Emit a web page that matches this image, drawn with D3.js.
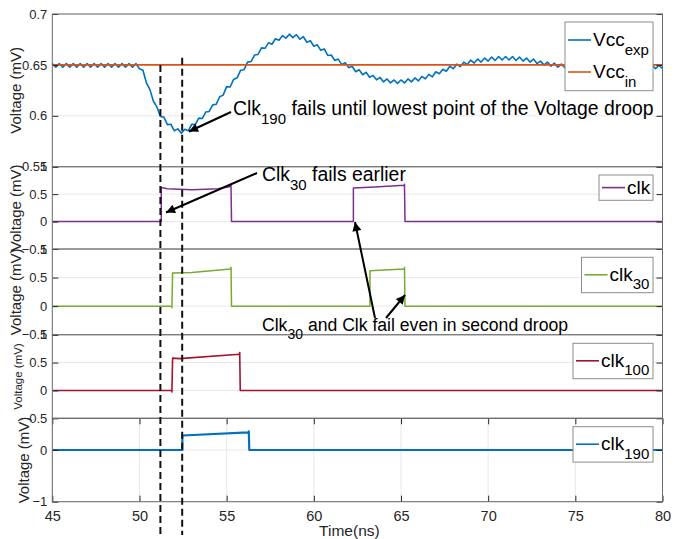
<!DOCTYPE html>
<html>
<head>
<meta charset="utf-8">
<script src="https://cdn.jsdelivr.net/npm/d3@7"></script>
<style>
  body { margin: 0; background: #fff; }
  svg { display: block; font-family: "Liberation Sans", Arial, sans-serif; }
</style>
</head>
<body>
<div id="chart"></div>
<script>
// time axis
const timeTicks = [45, 50, 55, 60, 65, 70, 75, 80];
const vccStart = 45, vccStep = 0.2;

const vccExp = [
  0.6512,0.6478,0.6512,0.6478,0.6512,0.6478,0.6512,0.6478,0.6512,0.6478,
  0.6512,0.6478,0.6512,0.6478,0.6512,0.6478,0.6512,0.6478,0.6512,0.6478,
  0.6512,0.6478,0.6512,0.6478,0.6512,0.6463,0.6447,0.6323,0.6257,0.6143,
  0.6087,0.5993,0.5987,0.5913,0.5917,0.5853,0.5872,0.5828,0.5867,0.5853,
  0.5917,0.5913,0.5977,0.5973,0.6037,0.6043,0.6107,0.6113,0.6187,0.6203,
  0.6287,0.6283,0.6357,0.6373,0.6447,0.6453,0.6527,0.6533,0.6597,0.6603,
  0.6667,0.6663,0.6717,0.6703,0.6757,0.6743,0.6787,0.6763,0.6802,0.6768,
  0.6797,0.6753,0.6777,0.6723,0.6737,0.6683,0.6697,0.6643,0.6657,0.6593,
  0.6597,0.6543,0.6557,0.6503,0.6522,0.6473,0.6487,0.6433,0.6452,0.6403,
  0.6427,0.6378,0.6397,0.6353,0.6377,0.6333,0.6362,0.6323,0.6352,0.6318,
  0.6352,0.6323,0.6362,0.6333,0.6372,0.6343,0.6387,0.6363,0.6407,0.6383,
  0.6432,0.6413,0.6457,0.6438,0.6487,0.6463,0.6507,0.6483,0.6527,0.6503,
  0.6547,0.6518,0.6557,0.6528,0.6567,0.6538,0.6577,0.6543,0.6582,0.6548,
  0.6582,0.6548,0.6582,0.6543,0.6577,0.6538,0.6567,0.6528,0.6557,0.6513,
  0.6537,0.6498,0.6527,0.6488,0.6517,0.6478,0.6507,0.6473,0.6507,0.6473,
  0.6507,0.6473,0.6507,0.6473,0.6507,0.6473,0.6507,0.6473,0.6507,0.6473,
  0.6507,0.6473,0.6507,0.6473,0.6507,0.6473,0.6497,0.6463,0.6497,0.6463,
  0.6497,0.6463,0.6497,0.6463,0.6497,0.6463
];
const vccIn = [[45, 0.65], [80, 0.65]];

// clock outputs [time ns, voltage]
const clk = [[45,0],[51.25,0],[51.25,0.62],[51.6,0.6],[53,0.58],[54.5,0.6],[55.22,0.64],[55.25,0.67],[55.28,0],
  [62.27,0],[62.27,0.61],[63.5,0.63],[65.18,0.66],[65.2,0.68],[65.23,0],[80,0]];
const clk30 = [[45,0],[51.86,0],[51.86,-0.03],[51.9,0.58],[53,0.59],[55.22,0.65],[55.25,0.68],[55.28,0],
  [63.22,0],[63.22,0.62],[65.18,0.65],[65.2,0.68],[65.23,0],[80,0]];
const clk100 = [[45,0],[51.86,0],[51.86,-0.03],[51.9,0.58],[52.3,0.57],[55.72,0.65],[55.75,0.68],[55.78,0],[80,0]];
const clk190 = [[45,0],[52.46,0],[52.46,0.28],[56.25,0.34],[56.27,0.36],[56.3,0],[80,0]];

const yTicks1 = [0.55, 0.6, 0.65, 0.7];
const yTicksClk = [-0.5, 0, 0.5, 1];
const yTicks5 = [-1, 0];

const failTimes = [51.2, 52.45];

const W = 689, H = 539;
const left = 52.3, right = 662.5;
const x = d3.scaleLinear().domain([45, 80]).range([left, right]);

const svg = d3.select('#chart').append('svg')
  .attr('width', W).attr('height', H);

const panels = [
  { top: 14, bottom: 166.7, domain: [0.55, 0.7], ticks: yTicks1,
    series: [{ data: vccExp.map((v, i) => [vccStart + i * vccStep, v]), color: '#0072BD', w: 1.6 },
             { data: vccIn, color: '#D95319', w: 1.8 }],
    legend: { top: 22, width: 88, rows: [['Vcc', 'exp', '#0072BD'], ['Vcc', 'in', '#D95319']] },
    label: { x: 17, size: 15 } },
  { top: 166.7, bottom: 249, domain: [-0.5, 1], ticks: yTicksClk,
    series: [{ data: clk, color: '#7E2F8E', w: 1.5 }],
    legend: { top: 175, width: 54, rows: [['clk', '', '#7E2F8E']] },
    label: { x: 17, size: 15 } },
  { top: 249, bottom: 334.7, domain: [-0.5, 1], ticks: yTicksClk,
    series: [{ data: clk30, color: '#77AC30', w: 1.5 }],
    legend: { top: 257.3, width: 71.5, rows: [['clk', '30', '#77AC30']] },
    label: { x: 17, size: 15 } },
  { top: 334.7, bottom: 418.3, domain: [-0.5, 1], ticks: yTicksClk,
    series: [{ data: clk100, color: '#A2142F', w: 1.6 }],
    legend: { top: 343.3, width: 80, rows: [['clk', '100', '#A2142F']] },
    label: { x: 19, size: 11.5 } },
  { top: 418.3, bottom: 501.7, domain: [-1, 0.613], ticks: yTicks5,
    series: [{ data: clk190, color: '#0072BD', w: 2.2 }],
    legend: { top: 426.7, width: 80, rows: [['clk', '190', '#0072BD']] },
    label: { x: 25, size: 15 } }
];

const axisColor = '#262626';

function richText(g, tx, ty, base, sub, rest, size, subSize) {
  const t = g.append('text').attr('x', tx).attr('y', ty)
    .attr('font-size', size).attr('fill', '#000');
  t.append('tspan').text(base);
  if (sub) t.append('tspan').attr('font-size', subSize).attr('dy', size * 0.45).text(sub);
  if (rest) t.append('tspan').attr('dy', sub ? -size * 0.45 : 0).text(rest);
  return t;
}

panels.forEach((p, idx) => {
  const y = d3.scaleLinear().domain(p.domain).range([p.bottom, p.top]);
  const g = svg.append('g');
  const isLast = idx === panels.length - 1;

  // grid
  g.append('g').selectAll('line').data(p.ticks).join('line')
    .attr('x1', left).attr('x2', right)
    .attr('y1', d => y(d)).attr('y2', d => y(d))
    .attr('stroke', '#e8e8e8').attr('stroke-width', 1);
  if (isLast) {
    g.append('g').selectAll('line').data(timeTicks).join('line')
      .attr('x1', d => x(d)).attr('x2', d => x(d))
      .attr('y1', p.top).attr('y2', p.bottom)
      .attr('stroke', '#e8e8e8').attr('stroke-width', 1);
  }

  // series
  p.series.forEach(s => {
    g.append('path').datum(s.data)
      .attr('fill', 'none').attr('stroke', s.color).attr('stroke-width', s.w)
      .attr('stroke-linejoin', 'round')
      .attr('d', d3.line().x(d => x(d[0])).y(d => y(d[1])));
  });

  // axes
  const ax = g.append('g').attr('transform', `translate(${left},0)`)
    .call(d3.axisLeft(y).tickValues(p.ticks).tickSize(-6).tickPadding(5).tickFormat(d3.format('')));
  ax.select('.domain').remove();
  ax.selectAll('line').attr('stroke', axisColor);
  ax.selectAll('text').attr('font-size', 13).attr('fill', axisColor)
    .attr('font-family', '"Liberation Sans", Arial, sans-serif');

  const axr = g.append('g').attr('transform', `translate(${right},0)`)
    .call(d3.axisRight(y).tickValues(p.ticks).tickSize(-6).tickFormat(''));
  axr.select('.domain').remove();
  axr.selectAll('line').attr('stroke', axisColor);

  if (isLast) {
    const axb = g.append('g').attr('transform', `translate(0,${p.bottom})`)
      .call(d3.axisBottom(x).tickValues(timeTicks).tickSize(-6).tickPadding(9));
    axb.select('.domain').remove();
    axb.selectAll('line').attr('stroke', axisColor);
    axb.selectAll('text').attr('font-size', 14.5).attr('fill', axisColor)
      .attr('font-family', '"Liberation Sans", Arial, sans-serif');
    const axt = g.append('g').attr('transform', `translate(0,${p.top})`)
      .call(d3.axisTop(x).tickValues(timeTicks).tickSize(-6).tickFormat(''));
    axt.select('.domain').remove();
    axt.selectAll('line').attr('stroke', axisColor);
  }

  // frame
  g.append('rect').attr('x', left).attr('y', p.top)
    .attr('width', right - left).attr('height', p.bottom - p.top)
    .attr('fill', 'none').attr('stroke', '#6a6a6a').attr('stroke-width', 1);

  // y label
  g.append('text')
    .attr('transform', `translate(${p.label.x},${(p.top + p.bottom) / 2}) rotate(-90)`)
    .attr('text-anchor', 'middle').attr('dominant-baseline', 'middle')
    .attr('font-size', p.label.size).attr('fill', axisColor)
    .text('Voltage (mV)');

  // legend
  const lg = p.legend;
  const rowH = 32;
  const boxH = lg.rows.length === 1 ? (lg.rows[0][1] ? 35.4 : 25.3) : 68.7;
  const bx = right - 9.5 - lg.width;
  g.append('rect').attr('x', bx).attr('y', lg.top).attr('width', lg.width).attr('height', boxH)
    .attr('fill', '#fff').attr('stroke', '#8c8c8c').attr('stroke-width', 1);
  lg.rows.forEach((r, i) => {
    const cy = lg.top + (lg.rows.length === 1 ? (r[1] ? 17.5 : 12.6) : 18 + i * rowH);
    g.append('line').attr('x1', bx + 3).attr('x2', bx + 26)
      .attr('y1', cy).attr('y2', cy).attr('stroke', r[2]).attr('stroke-width', 1.6);
    richText(g, bx + 28, cy + 6, r[0], r[1], '', 19, 15);
  });
});

// x label
svg.append('text').attr('x', (left + right) / 2 - 8).attr('y', 536)
  .attr('text-anchor', 'middle').attr('font-size', 15.5).attr('fill', axisColor)
  .text('Time(ns)');

// dashed markers
const y1 = d3.scaleLinear().domain([0.55, 0.7]).range([166.7, 14]);
const dashTops = [0.65, 0.657];
svg.append('g').selectAll('line').data(failTimes).join('line')
  .attr('x1', d => x(d)).attr('x2', d => x(d))
  .attr('y1', (d, i) => y1(dashTops[i])).attr('y2', 535)
  .attr('stroke', '#111').attr('stroke-width', 2).attr('stroke-dasharray', '7,4');

// annotations
svg.append('defs').append('marker').attr('id', 'ah')
  .attr('viewBox', '0 0 10 10').attr('refX', 10).attr('refY', 5)
  .attr('markerWidth', 5.5).attr('markerHeight', 4.5).attr('markerUnits', 'strokeWidth')
  .attr('orient', 'auto')
  .append('path').attr('d', 'M0,0L10,5L0,10z').attr('fill', '#000');

const arrows = [
  [231, 112, 189, 131.5],
  [257, 173, 166, 212.5],
  [375, 318, 355, 222],
  [386, 318, 405, 295]
];
svg.append('g').selectAll('line').data(arrows).join('line')
  .attr('x1', d => d[0]).attr('y1', d => d[1]).attr('x2', d => d[2]).attr('y2', d => d[3])
  .attr('stroke', '#000').attr('stroke-width', 2).attr('marker-end', 'url(#ah)');

const notes = svg.append('g');
richText(notes, 233, 115, 'Clk', '190', ' fails until lowest point of the Voltage droop', 19.4, 15);
richText(notes, 262, 181, 'Clk', '30', ' fails earlier', 19.4, 15);
richText(notes, 262, 331, 'Clk', '30', ' and Clk fail even in second droop', 17.6, 14);
</script>
</body>
</html>
